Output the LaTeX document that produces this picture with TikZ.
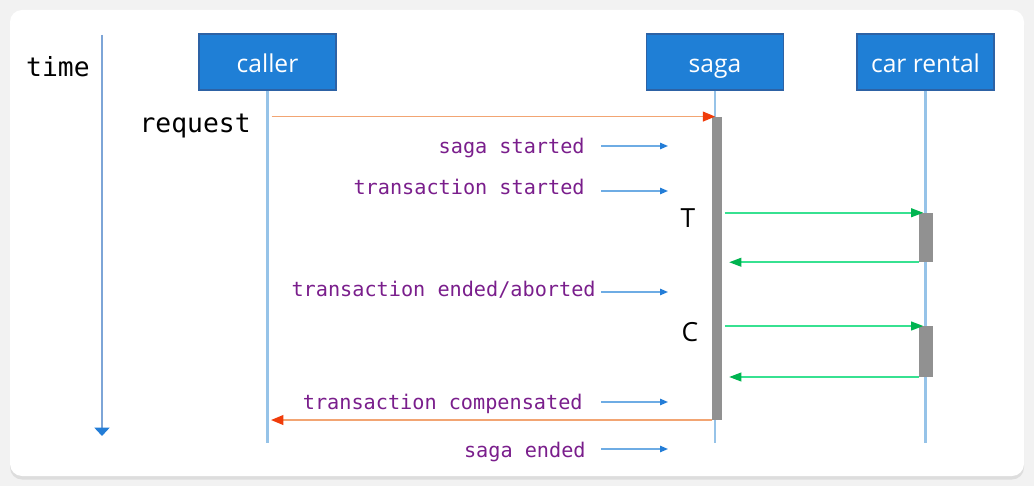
\documentclass[tikz,border=0pt]{standalone}
\usepackage{fontspec}
\setmainfont{Open Sans}
\setmonofont{DejaVu Sans Mono}
\usepackage{tikz}
\usetikzlibrary{arrows.meta,shadows,positioning}
\definecolor{fondo}{RGB}{242,242,242}
\definecolor{azul}{RGB}{31,127,214}
\definecolor{azulOscuro}{RGB}{45,98,165}
\definecolor{celeste}{RGB}{150,195,232}
\definecolor{azulEje}{RGB}{125,165,215}
\definecolor{azulNota}{RGB}{110,172,228}
\definecolor{azulFlecha}{RGB}{35,125,215}
\definecolor{morado}{RGB}{122,30,140}
\definecolor{naranja}{RGB}{242,165,115}
\definecolor{rojo}{RGB}{240,60,10}
\definecolor{verde}{RGB}{55,225,145}
\definecolor{verdeOscuro}{RGB}{0,180,80}
\definecolor{gris}{RGB}{145,145,145}
\tikzstyle{actor}=[draw=azulOscuro, fill=azul, text=white,
                   minimum width=2.74cm, minimum height=1.12cm,
                   inner sep=0pt, line width=0.6pt,
                   text height=13pt, text depth=1.6pt,
                   font=\fontsize{14}{16}\selectfont]
\tikzstyle{lifeline}=[draw=celeste, line width=1.3pt]
\tikzstyle{bar}=[fill=gris, inner sep=0pt, outer sep=0pt]
\tikzstyle{mono}=[font=\ttfamily\fontsize{15}{17}\selectfont,
                  inner sep=0pt, anchor=mid east]
\tikzstyle{nota}=[text=morado, font=\ttfamily\fontsize{11.5}{13}\selectfont,
                  inner sep=0pt, anchor=mid east]
\tikzstyle{letra}=[font=\fontsize{15}{17}\selectfont, inner sep=0pt]
\tikzstyle{eje}=[draw=azulEje, line width=0.8pt,
                 -{Triangle[length=4.7pt,width=8.5pt,color=azulFlecha]}]
\tikzstyle{hint}=[draw=azulNota, line width=0.8pt,
                  -{Triangle[length=4.5pt,width=3.6pt,color=azulFlecha]}]
\tikzstyle{req}=[draw=naranja, line width=1pt,
                 -{Triangle[length=7pt,width=5.5pt,color=rojo]}]
\tikzstyle{call}=[draw=verde, line width=1pt,
                  -{Triangle[length=7pt,width=5pt,color=verdeOscuro]}]

\begin{document}
\begin{tikzpicture}[x=0.02cm,y=-0.02cm]

    \useasboundingbox (0,0) rectangle (1034,486);
    \fill[fondo] (0,0) rectangle (1034,486);
    \fill[white, rounded corners=0.24cm,
          drop shadow={opacity=0.18, shadow xshift=0pt, shadow yshift=-2pt}]
          (10,10) rectangle (1024,476);

    %time axis
    \draw (90,72) node (tiempo) [mono] {time};
    \coordinate (t0) at (102,35);
    \coordinate (t1) at (102,436);
    \draw[eje] (t0) -- (t1);

    %participants
    \draw (267.5,62) node (caller) [actor] {caller};
    \draw (715,62) node (saga) [actor] {saga};
    \draw (925.5,62) node (car) [actor] {car rental};

    \coordinate (fin) at (0,443);
    \foreach \n in {caller,saga,car}
        \draw[lifeline] (\n.south) -- (\n.south |- fin);

    %activation bars
    \draw (717,268.3) node (sagaBar) [bar, minimum width=0.19cm, minimum height=6.07cm] {};
    \draw (926,237.5) node (carT) [bar, minimum width=0.27cm, minimum height=0.99cm] {};
    \draw (926,351.5) node (carC) [bar, minimum width=0.27cm, minimum height=1.02cm] {};

    %request and reply
    \draw (251,128) node (request) [mono] {request};
    \draw[req, shorten <=2.3pt, shorten >=1pt] (caller.south |- sagaBar.north) -- (sagaBar.north);
    \draw[req, shorten >=2pt] (sagaBar.south west) -- (caller.south |- sagaBar.south);

    %transaction and compensation
    \draw (688,218) node (T) [letra] {T};
    \draw (690,332) node (C) [letra] {C};
    \foreach \b in {carT,carC} {
        \draw[call, shorten <=1.8pt, shorten >=1.5pt] (sagaBar.east |- \b.north) -- (\b.north);
        \draw[call, shorten >=4.2pt] (\b.south west) -- (sagaBar.east |- \b.south);
    }

    %saga log
    \foreach \ty/\ay/\tx/\txt [count=\k] in {149/146/585/saga started,
            190/191/585/transaction started,
            292/292/596/{transaction ended/aborted},
            405/402/583/transaction compensated,
            453/449/586/saga ended} {
        \draw (\tx,\ty) node (nota\k) [nota] {\txt};
        \coordinate (ini\k) at (601,\ay);
        \coordinate (fin\k) at (668,\ay);
        \draw[hint] (ini\k) -- (fin\k);
    }

\end{tikzpicture}
\end{document}
